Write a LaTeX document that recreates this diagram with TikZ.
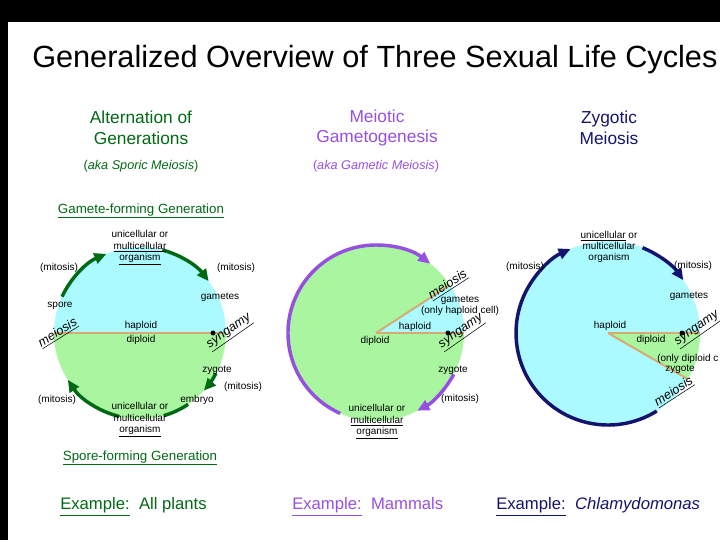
\documentclass[tikz,border=0pt]{standalone}
\usepackage{fontspec}
\setmainfont{Liberation Sans}
\usetikzlibrary{arrows.meta}
\definecolor{gg}{RGB}{0,105,20}
\definecolor{pp}{RGB}{150,80,225}
\definecolor{nv}{RGB}{20,20,110}
\definecolor{cy}{RGB}{170,250,255}
\definecolor{lg}{RGB}{170,245,160}
\definecolor{tan}{RGB}{215,170,115}
\newcommand{\ul}[1]{\underline{#1}}
\begin{document}
\begin{tikzpicture}[x=0.75pt,y=-0.75pt,
  lab/.style={font=\fontsize{7.5}{8.5}\selectfont,align=center,inner sep=0pt},
  head/.style={font=\fontsize{13}{15.5}\selectfont,align=center,inner sep=0pt},
  aka/.style={font=\fontsize{9.5}{11}\selectfont,inner sep=0pt},
  ex/.style={font=\fontsize{12.5}{14}\selectfont,anchor=west,inner sep=0pt},
  rot/.style={font=\fontsize{9.5}{11}\selectfont\itshape,inner sep=0pt},
  cyc/.style={line width=2.6pt},
  tip/.style={-{Triangle[length=9pt,width=8pt]}},
  sep/.style={tan,line width=2pt}]
\useasboundingbox (0,0) rectangle (720,540);
\fill[black] (0,0) rectangle (720,22);
\fill[black] (0,0) rectangle (8,540);
\node[inner sep=0pt,anchor=west,font=\fontsize{23}{27}\selectfont] (title) at (32,60) {Generalized Overview of Three Sexual Life Cycles};
% headings
\node[head,text=gg] (h1) at (141,128) {Alternation of\\Generations};
\node[aka,text=gg] (a1) at (141,166) {(\textit{aka Sporic Meiosis})};
\node[head,text=pp] (h2) at (377,128) {Meiotic\\Gametogenesis};
\node[aka,text=pp] (a2) at (376,166) {(\textit{aka Gametic Meiosis})};
\node[head,text=nv] (h3) at (609,128) {Zygotic\\Meiosis};
% ---- circle 1
\coordinate (c1) at (140,333);
\fill[lg] (c1) ++(-86,0) arc[start angle=180,end angle=0,radius=86] -- cycle;
\fill[cy] (c1) ++(-86,0) arc[start angle=180,end angle=360,radius=86] -- cycle;
\draw[sep] (c1) ++(-86,0) -- ++(172,0);
\fill (213,333) circle (2.5);
\draw[cyc,gg,tip] (c1) ++(-155:86) arc[start angle=-155,end angle=-113,radius=86];
\draw[cyc,gg,tip] (c1) ++(-75:86) arc[start angle=-75,end angle=-37,radius=86];
\draw[cyc,gg,tip] (c1) ++(28:86) arc[start angle=28,end angle=42,radius=86];
\draw[cyc,gg] (c1) ++(56:86) arc[start angle=56,end angle=74,radius=86];
\draw[cyc,gg,tip] (c1) ++(104:86) arc[start angle=104,end angle=147,radius=86];
\node[font=\fontsize{10}{12}\selectfont,text=gg,inner sep=0pt] (gfg) at (141,211) {\ul{Gamete-forming Generation}};
\node[font=\fontsize{10}{12}\selectfont,text=gg,inner sep=0pt] (sfg) at (140,458) {\ul{Spore-forming Generation}};
\node[lab] (o1) at (140,248) {unicellular or\\\ul{multicellular}\\\ul{organism}};
\node[lab] (m1) at (59,268) {(mitosis)};
\node[lab] (m2) at (236,268) {(mitosis)};
\node[lab] (sp) at (60,306) {spore};
\node[lab] (gm) at (220,297) {gametes};
\node[lab] (hp) at (141,326) {haploid};
\node[lab] (dp) at (141,340) {diploid};
\node[lab] (zg) at (217,370) {zygote};
\node[lab] (m3) at (243,387) {(mitosis)};
\node[lab] (em) at (197,400) {embryo};
\node[lab] (m4) at (57,400) {(mitosis)};
\node[lab] (o2) at (140,420) {unicellular or\\multicellular\\\ul{organism}};
\node[rot,rotate=32] (me1) at (58,333) {\ul{meiosis}};
\node[rot,rotate=35] (sy1) at (230,333) {\ul{syngamy}};
% ---- circle 2
\coordinate (c2) at (376,333);
\fill[lg] (c2) circle (88);
\fill[cy] (c2) -- ++(0:88) arc[start angle=0,end angle=-33,radius=88] -- cycle;
\draw[sep] (c2) -- ++(0:88);
\draw[tan,line width=1.5pt] (c2) -- ++(-33:88);
\fill (448,333) circle (2.5);
\draw[cyc,pp,tip] (c2) ++(-246:88) arc[start angle=-246,end angle=-52,radius=88];
\draw[cyc,pp,tip] (c2) ++(28:88) arc[start angle=28,end angle=62,radius=88];
\node[rot,rotate=33] (me2) at (448,285) {\ul{meiosis}};
\node[rot,rotate=35] (sy2) at (462,333) {\ul{syngamy}};
\node[lab] (gm2) at (460,306) {gametes\\(only haploid cell)};
\node[lab] (hp2) at (415,327) {haploid};
\node[lab] (dp2) at (375,341) {diploid};
\node[lab] (zg2) at (453,370) {zygote};
\node[lab] (m5) at (460,399) {(mitosis)};
\node[lab] (o3) at (377,422) {unicellular or\\\ul{multicellular}\\\ul{organism}};
% ---- circle 3
\coordinate (c3) at (608,333);
\fill[cy] (c3) circle (92);
\fill[lg] (c3) -- ++(0:92) arc[start angle=0,end angle=30,radius=92] -- cycle;
\draw[sep] (c3) -- ++(0:92);
\draw[tan,line width=1.5pt] (c3) -- ++(30:92);
\fill (682,333) circle (2.5);
\draw[cyc,nv,tip] (c3) ++(58:92) arc[start angle=58,end angle=246,radius=92];
\draw[cyc,nv,tip] (c3) ++(-68:92) arc[start angle=-68,end angle=-35,radius=92];
\node[lab] (o4) at (609,247) {\ul{unicellular} or\\multicellular\\organism};
\node[lab] (m6) at (525,267) {(mitosis)};
\node[lab] (m7) at (693,266) {(mitosis)};
\node[lab] (gm3) at (689,296) {gametes};
\node[lab] (hp3) at (610,326) {haploid};
\node[lab] (dp3) at (651,340) {diploid};
\node[lab,anchor=west] (od) at (657,359) {(only diploid c};
\node[lab] (zg3) at (680,369) {zygote};
\node[rot,rotate=35] (sy3) at (698,330) {\ul{syngamy}};
\node[rot,rotate=33] (me3) at (674,392) {\ul{meiosis}};
% examples
\node[ex,text=gg] (e1) at (60,507) {\ul{Example:}\ \ All plants};
\node[ex,text=pp] (e2) at (292,507) {\ul{Example:}\ \ Mammals};
\node[ex,text=nv] (e3) at (496,507) {\ul{Example:}\ \ \textit{Chlamydomonas}};
\end{tikzpicture}
\end{document}
